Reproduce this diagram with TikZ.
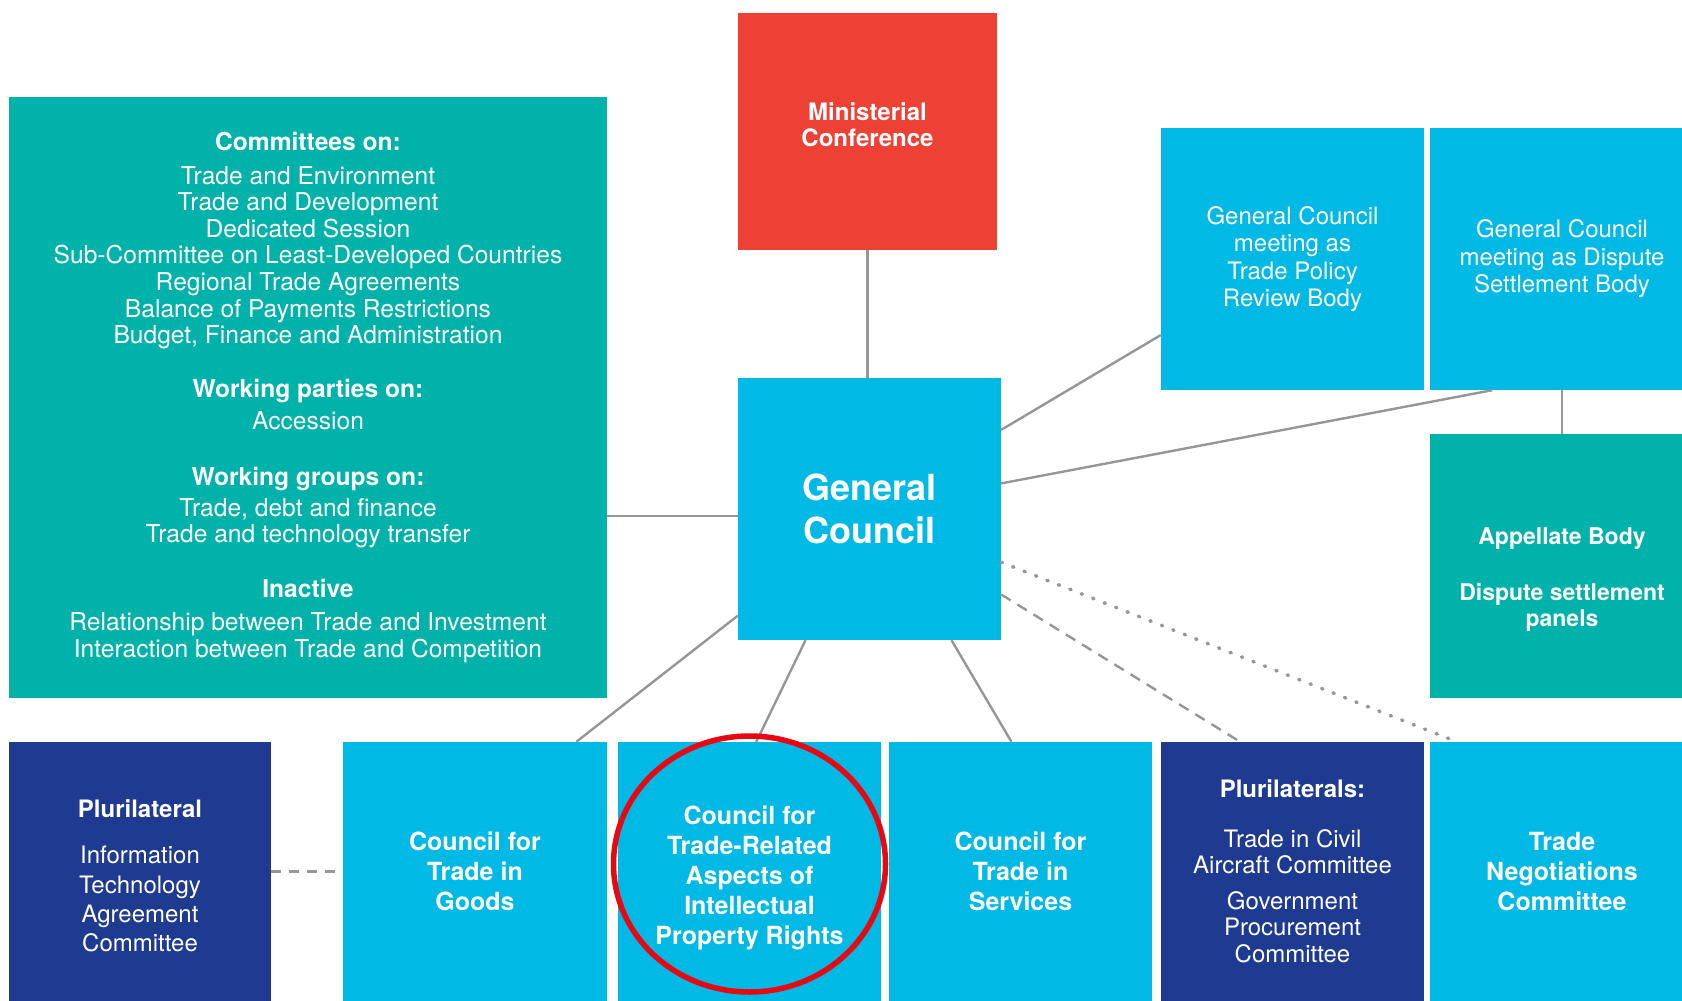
\documentclass[tikz,border=0pt]{standalone}
\usepackage{fontspec}
\setmainfont{TeX Gyre Heros}
\definecolor{wtoteal}{RGB}{0,178,169}
\definecolor{wtoblue}{RGB}{0,185,229}
\definecolor{wtored}{RGB}{236,65,52}
\definecolor{wtonavy}{RGB}{30,58,145}
\definecolor{linkgray}{RGB}{150,150,150}
\definecolor{ringred}{RGB}{232,8,18}
\begin{document}
\begin{tikzpicture}[x=1pt, y=-1pt, line join=round,
    box/.style={inner sep=0pt, align=center, text=white, minimum width=263pt, minimum height=262pt},
    low/.style={box, minimum height=259pt},
    link/.style={draw=linkgray, line width=2.4pt},
    ring/.style={draw=ringred, line width=5.5pt},
    small/.style={font={\fontsize{24.6}{26.6}\selectfont}},
    lowtxt/.style={font={\bfseries\fontsize{25}{30}\selectfont}}]
    \useasboundingbox (0,0) rectangle (1682,1001);
    % top and centre
    \node[box, fill=wtored, minimum width=259pt, minimum height=237pt, text depth=14pt, font={\bfseries\fontsize{24}{26}\selectfont}] (mc) at (867.5,131.5) {Ministerial\\Conference};
    \node[box, fill=wtoblue, font={\bfseries\fontsize{36}{43}\selectfont}] (gc) at (869.5,509) {General\\Council};
    \node[box, fill=wtoteal, minimum width=598pt, minimum height=601pt, small] (comm) at (308,397.5) {%
        \textbf{Committees on:}\\[7pt]
        Trade and Environment\\
        Trade and Development\\
        Dedicated Session\\
        Sub-Committee on Least-Developed Countries\\
        Regional Trade Agreements\\
        Balance of Payments Restrictions\\
        Budget, Finance and Administration\\[27pt]
        \textbf{Working parties on:}\\[6pt]
        Accession\\[29pt]
        \textbf{Working groups on:}\\[4pt]
        Trade, debt and finance\\
        Trade and technology transfer\\[28pt]
        \textbf{Inactive}\\[7pt]
        Relationship between Trade and Investment\\
        Interaction between Trade and Competition};
    % right column
    \node[box, fill=wtoblue, font={\fontsize{24}{27.5}\selectfont}] (tprb) at (1292.5,259) {General Council\\meeting as\\Trade Policy\\Review Body};
    \node[box, fill=wtoblue, minimum width=264pt, font={\fontsize{24}{27.5}\selectfont}] (dsb) at (1562,259) {General Council\\meeting as Dispute\\Settlement Body};
    \node[box, fill=wtoteal, minimum width=264pt, minimum height=264pt, text height=126pt, font={\bfseries\fontsize{23}{26}\selectfont}] (ab) at (1562,566) {Appellate Body\\[30pt]Dispute settlement\\panels};
    % bottom row
    \node[low, fill=wtonavy, minimum width=262pt, text height=161pt, font={\fontsize{24}{29.3}\selectfont}] (ita) at (140,871.5) {\textbf{Plurilateral}\\[17pt]Information\\Technology\\Agreement\\Committee};
    \node[low, fill=wtoblue, minimum width=264pt, lowtxt] (goods) at (475,871.5) {Council for\\Trade in\\Goods};
    \node[low, fill=wtoblue, text height=152pt, lowtxt] (trips) at (749.5,871.5) {Council for\\Trade-Related\\Aspects of\\Intellectual\\Property Rights};
    \node[low, fill=wtoblue, lowtxt] (svc) at (1020.5,871.5) {Council for\\Trade in\\Services};
    \node[low, fill=wtonavy, font={\fontsize{24}{26.5}\selectfont}] (plur) at (1292.5,871.5) {\textbf{Plurilaterals:}\\[23pt]Trade in Civil\\Aircraft Committee\\[9pt]Government\\Procurement\\Committee};
    \node[low, fill=wtoblue, minimum width=264pt, lowtxt] (tnc) at (1562,871.5) {Trade\\Negotiations\\Committee};
    % links
    \draw[link] (mc.south) -- (mc.south |- gc.north);
    \draw[link] (gc.183) -- (gc.183 -| comm.east);
    \draw[link] (gc.31) -- (tprb.210);
    \draw[link] (gc.11) -- (dsb.242);
    \draw[link] (dsb.south) -- (ab.north);
    \draw[link] (gc.219) -- (goods.52);
    \draw[link] (gc.244) -- (trips.87);
    \draw[link] (gc.302) -- (svc.94);
    \draw[link, dash pattern=on 11pt off 8pt] (gc.327) -- (plur.112);
    \draw[link, line width=3.6pt, line cap=round, dash pattern=on 1.2pt off 11.1pt] (gc.338) -- (tnc.129);
    \draw[link, dash pattern=on 10pt off 8pt] (ita.east) -- (goods.west);
    % highlight
    \draw[ring] ([yshift=7.5pt]trips.center) ellipse [x radius=136pt, y radius=128pt];
\end{tikzpicture}
\end{document}
